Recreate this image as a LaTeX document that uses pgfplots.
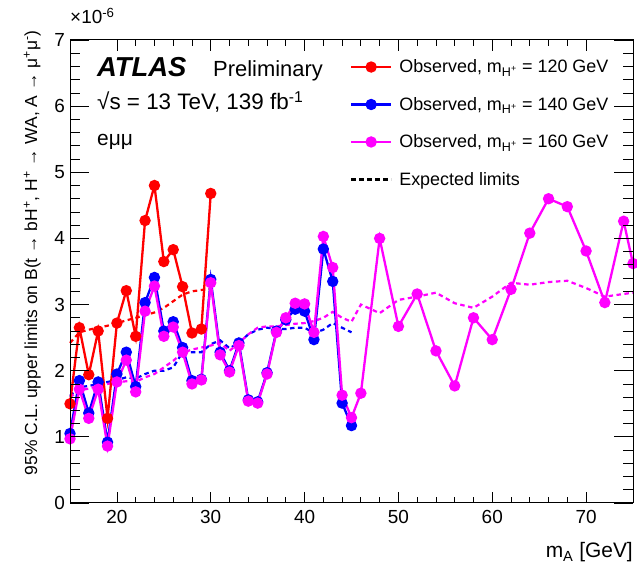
\documentclass[border=0pt]{standalone}
\usepackage{fontspec}
\setmainfont{Liberation Sans}
\usepackage{pgfplots}
\pgfplotsset{compat=1.18}
\definecolor{rootred}{RGB}{255,0,0}
\definecolor{rootblue}{RGB}{0,0,255}
\definecolor{rootmag}{RGB}{255,0,255}
\pgfplotsset{rootaxis/.style={
  scale only axis, width=563bp, height=463bp,
  xmin=15, xmax=75, ymin=0, ymax=7,
  tick align=inside, tick pos=both,
  every tick/.style={black, line width=0.8bp},
  axis line style={line width=1bp},
  /pgf/number format/assume math mode=true,
  ticklabel style={font=\fontsize{19}{19}\selectfont},
}}
\begin{document}
\begin{tikzpicture}
\begin{axis}[
  rootaxis,
  xtick={20,30,...,70}, ytick=\empty,
  minor x tick num=4,
  major tick length=11bp, minor tick length=6bp,
  xticklabel style={yshift=-4bp},
  clip=false,
  legend cell align=left,
  legend style={draw=none, fill=none, at={(rel axis cs:0.497,0.962)}, anchor=north west,
     font=\fontsize{18}{18}\selectfont, row sep=19bp, inner sep=0pt},
  legend image code/.code={\draw[mark repeat=2,mark phase=2] plot coordinates {(0bp,0bp) (20bp,0bp) (40bp,0bp)};},
  /tikz/every odd column/.style={column sep=5bp},
]
% expected limits
\addplot[rootred, line width=2.2bp, dash pattern=on 4.5bp off 3.5bp, forget plot] coordinates {
(15,2.42)(16,2.58)(17,2.62)(18,2.65)(19,2.68)(20,2.72)(21,2.76)(22,2.80)(23,2.84)(24,2.88)(25,2.95)(26,3.05)(27,3.15)(28,3.20)(29,3.22)(30,3.24)};
\addplot[rootblue, line width=2.2bp, dash pattern=on 4.5bp off 3.5bp, forget plot] coordinates {
(15,1.62)(16,1.75)(17,1.77)(18,1.80)(19,1.83)(20,1.86)(21,1.90)(22,1.88)(23,1.95)(24,2.00)(25,2.00)(26,2.05)(27,2.28)(28,2.28)(29,2.28)(30,2.40)(31,2.46)(32,2.34)(33,2.42)(34,2.55)(35,2.62)(36,2.65)(37,2.63)(38,2.63)(39,2.65)(40,2.65)(41,2.57)(42,2.62)(43,2.72)(44,2.65)(45,2.58)};
\addplot[rootmag, line width=2.2bp, dash pattern=on 4.5bp off 3.5bp, forget plot] coordinates {
(15,1.60)(16,1.70)(17,1.73)(18,1.77)(19,1.80)(20,1.83)(21,1.84)(22,1.83)(23,1.90)(24,1.95)(25,2.05)(26,2.15)(27,2.27)(28,2.32)(29,2.35)(30,2.38)(31,2.42)(32,2.30)(33,2.42)(34,2.55)(35,2.65)(36,2.67)(37,2.67)(38,2.69)(39,2.71)(40,2.72)(41,2.75)(42,2.80)(43,2.89)(44,2.80)(45,2.74)(46,3.00)(48,2.87)(50,3.07)(52,3.12)(54,3.18)(56,3.02)(58,2.95)(60,3.12)(62,3.33)(64,3.30)(66,3.34)(68,3.36)(70,3.25)(72,3.12)(74,3.16)(75,3.18)};
% observed
\addplot[rootred, line width=2.3bp, mark=*, mark size=4.5bp] coordinates {
(15,1.50)(16,2.65)(17,1.94)(18,2.60)(19,1.28)(20,2.72)(21,3.21)(22,2.52)(23,4.27)(24,4.80)(25,3.65)(26,3.83)(27,3.27)(28,2.57)(29,2.63)(30,4.68)};
\addlegendentry{Observed, m\textsubscript{H\textsuperscript{+}} = 120 GeV}
\addplot[rootblue, line width=2.3bp, mark=*, mark size=4.5bp] coordinates {
(15,1.05)(16,1.85)(17,1.36)(18,1.83)(19,0.92)(20,1.95)(21,2.28)(22,1.76)(23,3.03)(24,3.41)(25,2.60)(26,2.74)(27,2.35)(28,1.85)(29,1.87)(30,3.38)(31,2.28)(32,2.00)(33,2.42)(34,1.56)(35,1.53)(36,1.97)(37,2.60)(38,2.77)(39,2.93)(40,2.90)(41,2.47)(42,3.84)(43,3.35)(44,1.51)(45,1.17)};
\addlegendentry{Observed, m\textsubscript{H\textsuperscript{+}} = 140 GeV}
\addplot[rootmag, line width=2.3bp, mark=*, mark size=4.5bp] coordinates {
(15,0.97)(16,1.72)(17,1.28)(18,1.72)(19,0.86)(20,1.83)(21,2.16)(22,1.68)(23,2.90)(24,3.28)(25,2.52)(26,2.66)(27,2.28)(28,1.80)(29,1.86)(30,3.33)(31,2.24)(32,1.98)(33,2.38)(34,1.54)(35,1.51)(36,1.95)(37,2.58)(38,2.80)(39,3.02)(40,3.01)(41,2.58)(42,4.03)(43,3.56)(44,1.63)(45,1.29)(46,1.66)(48,4.00)(50,2.67)(52,3.16)(54,2.30)(56,1.77)(58,2.80)(60,2.47)(62,3.23)(64,4.08)(66,4.60)(68,4.48)(70,3.81)(72,3.03)(74,4.26)(75,3.62)};
\addlegendentry{Observed, m\textsubscript{H\textsuperscript{+}} = 160 GeV}
\addlegendimage{black, line width=2.2bp, dash pattern=on 4.5bp off 3.5bp}
\addlegendentry{Expected limits}
\node[anchor=base west, inner sep=0, font=\fontsize{27.5}{27.5}\selectfont\bfseries\itshape] at (rel axis cs:0.048,0.922) {ATLAS};
\node[anchor=base west, inner sep=0, font=\fontsize{22}{22}\selectfont] at (rel axis cs:0.254,0.922) {Preliminary};
\node[anchor=base west, inner sep=0, font=\fontsize{22.5}{22.5}\selectfont] at (rel axis cs:0.048,0.849) {√s = 13 TeV, 139 fb\textsuperscript{-1}};
\node[anchor=base west, inner sep=0, font=\fontsize{21}{21}\selectfont] at (rel axis cs:0.048,0.772) {eμμ};
\end{axis}
\begin{axis}[
  rootaxis,
  xtick=\empty, ytick={0,1,...,7},
  minor y tick num=4,
  major tick length=19bp, minor tick length=10bp,
  yticklabel style={inner sep=0pt, xshift=-5bp},
]
\end{axis}
\node[anchor=base west, inner sep=0, font=\fontsize{19}{19}\selectfont] at ([yshift=16bp]current axis.north west) {×10\textsuperscript{-6}};
\node[anchor=base east, inner sep=0, font=\fontsize{21}{21}\selectfont] at ([yshift=-55bp]current axis.south east) {m\textsubscript{A} [GeV]};
\node[rotate=90, anchor=base east, inner sep=0, font=\fontsize{17.5}{17.5}\selectfont] at ([xshift=-33bp,yshift=10bp]current axis.north west) {95\% C.L. upper limits on B(t → bH\textsuperscript{+}, H\textsuperscript{+} → WA, A → μ\textsuperscript{+}μ\textsuperscript{-})};
\pgfresetboundingbox
\path ([xshift=-70bp,yshift=-67bp]current axis.south west) rectangle ([xshift=4bp,yshift=40bp]current axis.north east);
\end{tikzpicture}
\end{document}
